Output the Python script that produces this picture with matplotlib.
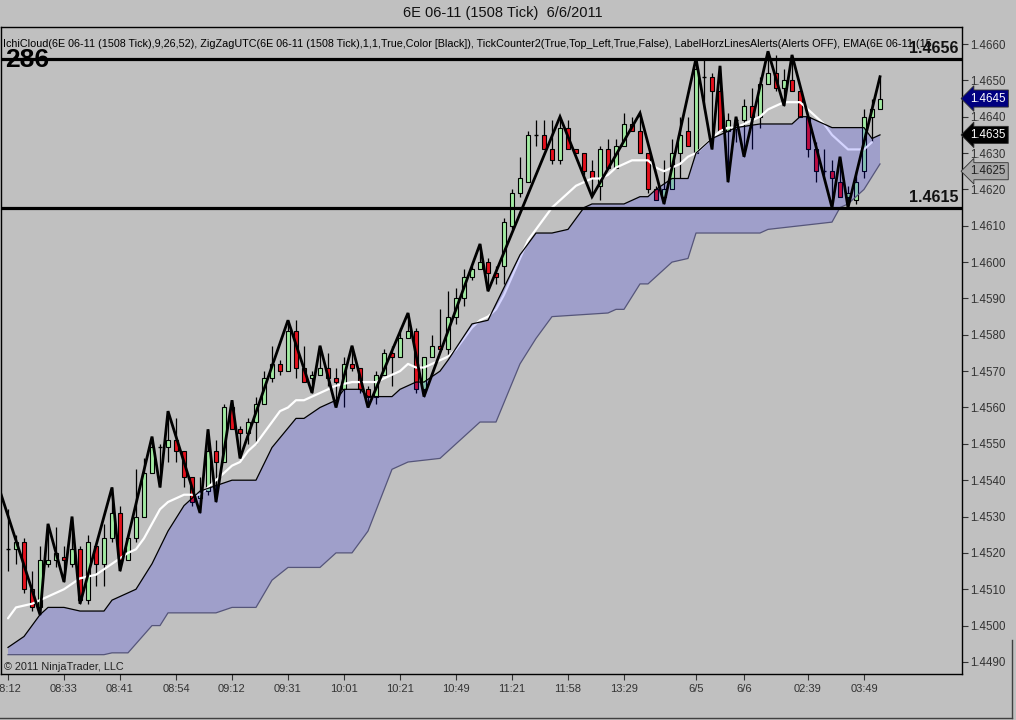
import matplotlib
matplotlib.use("Agg")
import matplotlib.pyplot as plt
from matplotlib.patches import Rectangle
from matplotlib.transforms import blended_transform_factory
import numpy as np

plt.rcParams['font.family'] = ['Liberation Sans', 'DejaVu Sans']

# ---------------- data ----------------
opens = [1.4521, 1.4521, 1.4523, 1.4510, 1.4505, 1.4517, 1.4518, 1.4519, 1.4517, 1.4521,
         1.4507, 1.4522, 1.4517, 1.4524, 1.4531, 1.4518, 1.4524, 1.4530, 1.4542, 1.4549,
         1.4549, 1.4551, 1.4548, 1.4541, 1.4535, 1.4537, 1.4548, 1.4545, 1.4560, 1.4554,
         1.4553, 1.4556, 1.4561, 1.4568, 1.4572, 1.4570, 1.4581, 1.4571, 1.4568, 1.4569,
         1.4571, 1.4568, 1.4565, 1.4572, 1.4571, 1.4565, 1.4563, 1.4569, 1.4575, 1.4574,
         1.4579, 1.4581, 1.4565, 1.4574, 1.4577, 1.4576, 1.4585, 1.4590, 1.4596, 1.4598,
         1.4600, 1.4597, 1.4599, 1.4610, 1.4619, 1.4622, 1.4635, 1.4635, 1.4631, 1.4628,
         1.4637, 1.4631, 1.4630, 1.4625, 1.4621, 1.4631, 1.4626, 1.4632, 1.4638, 1.4636,
         1.4630, 1.4620, 1.4618, 1.4620, 1.4630, 1.4636, 1.4630, 1.4651, 1.4651, 1.4647,
         1.4636, 1.4639, 1.4639, 1.4643, 1.4640, 1.4649, 1.4652, 1.4648, 1.4650, 1.4647,
         1.4640, 1.4631, 1.4625, 1.4625, 1.4622, 1.4618, 1.4617, 1.4625, 1.4640, 1.4642]
closes = [1.4521, 1.4523, 1.4510, 1.4505, 1.4518, 1.4518, 1.4520, 1.4518, 1.4521, 1.4507,
          1.4523, 1.4517, 1.4524, 1.4531, 1.4518, 1.4524, 1.4530, 1.4542, 1.4549, 1.4549,
          1.4551, 1.4548, 1.4541, 1.4534, 1.4536, 1.4548, 1.4545, 1.4560, 1.4554, 1.4553,
          1.4556, 1.4561, 1.4568, 1.4572, 1.4570, 1.4581, 1.4571, 1.4567, 1.4569, 1.4571,
          1.4568, 1.4567, 1.4572, 1.4571, 1.4565, 1.4563, 1.4569, 1.4575, 1.4574, 1.4579,
          1.4581, 1.4565, 1.4574, 1.4577, 1.4576, 1.4585, 1.4590, 1.4596, 1.4598, 1.4600,
          1.4597, 1.4596, 1.4611, 1.4619, 1.4623, 1.4635, 1.4635, 1.4631, 1.4628, 1.4637,
          1.4631, 1.4630, 1.4625, 1.4623, 1.4631, 1.4626, 1.4632, 1.4638, 1.4636, 1.4630,
          1.4620, 1.4617, 1.4620, 1.4630, 1.4635, 1.4632, 1.4653, 1.4651, 1.4647, 1.4636,
          1.4639, 1.4639, 1.4643, 1.4640, 1.4649, 1.4652, 1.4648, 1.4650, 1.4647, 1.4640,
          1.4631, 1.4625, 1.4625, 1.4623, 1.4618, 1.4619, 1.4622, 1.4640, 1.4642, 1.4645]
highs = [1.4532, 1.4525, 1.4524, 1.4515, 1.4522, 1.4528, 1.4527, 1.4522, 1.4530, 1.4522,
         1.4525, 1.4522, 1.4528, 1.4538, 1.4533, 1.4525, 1.4543, 1.4546, 1.4552, 1.4550,
         1.4559, 1.4557, 1.4548, 1.4541, 1.4541, 1.4554, 1.4551, 1.4561, 1.4562, 1.4555,
         1.4557, 1.4563, 1.4570, 1.4577, 1.4573, 1.4584, 1.4584, 1.4577, 1.4570, 1.4577,
         1.4575, 1.4571, 1.4574, 1.4577, 1.4571, 1.4566, 1.4570, 1.4576, 1.4577, 1.4582,
         1.4586, 1.4582, 1.4574, 1.4580, 1.4587, 1.4592, 1.4593, 1.4598, 1.4599, 1.4605,
         1.4601, 1.4599, 1.4612, 1.4620, 1.4629, 1.4636, 1.4639, 1.4639, 1.4639, 1.4640,
         1.4639, 1.4631, 1.4630, 1.4628, 1.4632, 1.4634, 1.4634, 1.4641, 1.4640, 1.4641,
         1.4630, 1.4621, 1.4628, 1.4634, 1.4640, 1.4640, 1.4656, 1.4656, 1.4652, 1.4654,
         1.4641, 1.4640, 1.4645, 1.4648, 1.4651, 1.4658, 1.4657, 1.4653, 1.4657, 1.4647,
         1.4640, 1.4633, 1.4631, 1.4628, 1.4629, 1.4621, 1.4625, 1.4642, 1.4645, 1.4651]
lows = [1.4515, 1.4517, 1.4509, 1.4504, 1.4503, 1.4516, 1.4516, 1.4512, 1.4516, 1.4506,
        1.4506, 1.4511, 1.4511, 1.4523, 1.4515, 1.4518, 1.4523, 1.4530, 1.4542, 1.4538,
        1.4545, 1.4545, 1.4538, 1.4533, 1.4531, 1.4536, 1.4534, 1.4545, 1.4554, 1.4546,
        1.4550, 1.4550, 1.4561, 1.4567, 1.4569, 1.4570, 1.4568, 1.4567, 1.4564, 1.4569,
        1.4566, 1.4560, 1.4560, 1.4570, 1.4564, 1.4560, 1.4561, 1.4569, 1.4566, 1.4574,
        1.4579, 1.4564, 1.4563, 1.4574, 1.4576, 1.4574, 1.4583, 1.4588, 1.4595, 1.4598,
        1.4592, 1.4594, 1.4594, 1.4609, 1.4618, 1.4622, 1.4632, 1.4631, 1.4627, 1.4627,
        1.4631, 1.4630, 1.4624, 1.4618, 1.4617, 1.4626, 1.4626, 1.4632, 1.4636, 1.4630,
        1.4619, 1.4617, 1.4616, 1.4620, 1.4623, 1.4632, 1.4630, 1.4642, 1.4631, 1.4636,
        1.4622, 1.4633, 1.4629, 1.4631, 1.4637, 1.4649, 1.4647, 1.4643, 1.4647, 1.4640,
        1.4629, 1.4622, 1.4624, 1.4615, 1.4618, 1.4615, 1.4616, 1.4623, 1.4633, 1.4642]

ema_idx = [0, 1, 3, 5, 7, 9, 11, 13, 15, 16, 17, 18, 19, 20, 21, 22, 23, 24, 25, 26,
           27, 28, 29, 30, 31, 32, 33, 34, 35, 36, 37, 38, 39, 40, 41, 43, 45, 46, 47, 48,
           49, 50, 51, 52, 53, 54, 55, 56, 57, 58, 59, 60, 61, 62, 63, 64, 65, 66, 67, 68,
           69, 70, 71, 72, 73, 74, 75, 76, 77, 78, 79, 80, 81, 82, 83, 84, 85, 86, 87, 88,
           89, 90, 91, 92, 93, 94, 95, 96, 97, 98, 99, 100, 101, 102, 103, 104, 105, 106, 107, 108]
ema = [1.4502, 1.4505, 1.4506, 1.4508, 1.4510, 1.4513, 1.4514, 1.4517, 1.4520, 1.4521,
       1.4524, 1.4528, 1.4532, 1.4534, 1.4535, 1.4536, 1.4536, 1.4536, 1.4538, 1.4540,
       1.4542, 1.4544, 1.4545, 1.4548, 1.4550, 1.4553, 1.4556, 1.4559, 1.4560, 1.4562,
       1.4562, 1.4563, 1.4564, 1.4565, 1.4566, 1.4567, 1.4567, 1.4567, 1.4568, 1.4569,
       1.4570, 1.4572, 1.4571, 1.4571, 1.4572, 1.4573, 1.4574, 1.4576, 1.4579, 1.4582,
       1.4584, 1.4585, 1.4587, 1.4591, 1.4596, 1.4601, 1.4606, 1.4609, 1.4612, 1.4615,
       1.4617, 1.4619, 1.4621, 1.4622, 1.4623, 1.4623, 1.4624, 1.4626, 1.4627, 1.4628,
       1.4628, 1.4628, 1.4626, 1.4625, 1.4626, 1.4627, 1.4629, 1.4630, 1.4632, 1.4634,
       1.4636, 1.4637, 1.4637, 1.4638, 1.4639, 1.4640, 1.4642, 1.4643, 1.4644, 1.4644,
       1.4644, 1.4642, 1.4640, 1.4638, 1.4635, 1.4633, 1.4631, 1.4631, 1.4631, 1.4633]

cloud_up_idx = [0, 2, 4, 5, 7, 9, 12, 13, 16, 18, 20, 22, 24, 28, 31, 33, 36, 37, 39, 41,
                42, 44, 45, 48, 49, 51, 52, 54, 55, 58, 60, 62, 64, 66, 68, 70, 72, 73, 77,
                79, 80, 81, 83, 85, 86, 88, 91, 94, 98, 99, 100, 103, 107, 108, 109]
cloud_up = [1.4494, 1.4497, 1.4503, 1.4505, 1.4505, 1.4504, 1.4504, 1.4507, 1.4510, 1.4517,
            1.4526, 1.4533, 1.4537, 1.4540, 1.4540, 1.4549, 1.4557, 1.4557, 1.4560, 1.4562,
            1.4565, 1.4565, 1.4563, 1.4563, 1.4565, 1.4567, 1.4567, 1.4570, 1.4573, 1.4583,
            1.4584, 1.4593, 1.4602, 1.4608, 1.4608, 1.4609, 1.4615, 1.4616, 1.4616, 1.4618,
            1.4618, 1.4620, 1.4623, 1.4623, 1.4630, 1.4634, 1.4637, 1.4638, 1.4638, 1.4640,
            1.4640, 1.4637, 1.4637, 1.4634, 1.4635]
cloud_lo_idx = [0, 12, 13, 15, 18, 19, 20, 26, 28, 31, 33, 35, 39, 41, 43, 45, 48, 49, 50,
                54, 59, 61, 64, 66, 68, 75, 76, 77, 79, 80, 81, 83, 85, 86, 94, 95, 103,
                104, 105, 107, 109]
cloud_lo = [1.4492, 1.4492, 1.44925, 1.44925, 1.4500, 1.4500, 1.45035, 1.45035, 1.4505, 1.4505,
            1.45125, 1.4516, 1.4516, 1.4520, 1.4520, 1.4526, 1.4543, 1.4544, 1.4545, 1.4546,
            1.4556, 1.4556, 1.4572, 1.4579, 1.4585, 1.4586, 1.4587, 1.4587, 1.4594, 1.4594,
            1.4596, 1.4600, 1.4601, 1.4608, 1.4608, 1.4609, 1.4611, 1.4615, 1.4616, 1.4620,
            1.4627]

zz_idx = [-1, 4, 5, 7, 8, 9, 13, 14, 18, 19, 20, 24, 25, 26, 28, 29, 35, 38, 39, 41, 43, 45,
          50, 52, 59, 60, 69, 73, 79, 82, 86, 88, 89, 90, 91, 92, 95, 97, 98, 103, 104, 105, 109]
zz_px = [1.4537, 1.4503, 1.4528, 1.4512, 1.4530, 1.4506, 1.4538, 1.4515, 1.4552, 1.4538,
         1.4559, 1.4531, 1.4554, 1.4534, 1.4562, 1.4546, 1.4584, 1.4564, 1.4577, 1.4560,
         1.4577, 1.4560, 1.4586, 1.4563, 1.4605, 1.4592, 1.4640, 1.4618, 1.4641, 1.4616,
         1.4656, 1.4631, 1.4654, 1.4622, 1.4640, 1.4629, 1.4658, 1.4643, 1.4657, 1.4615,
         1.4629, 1.4615, 1.4651]

hlines = [1.4656, 1.4615]
tags = [(1.4645, '#000080', 'white'), (1.4635, '#000000', 'white'), (1.4625, '#A8A8A8', '#202020')]

xtick_idx = [0, 7, 14, 21, 28, 35, 42, 49, 56, 63, 70, 77, 86, 92, 100, 107]
xtick_lbl = ['08:12', '08:33', '08:41', '08:54', '09:12', '09:31', '10:01', '10:21', '10:49',
             '11:21', '11:58', '13:29', '6/5', '6/6', '02:39', '03:49']
yticks = [1.4490 + 0.001 * k for k in range(18)]

title = '6E 06-11 (1508 Tick)  6/6/2011'
indicators = ('IchiCloud(6E 06-11 (1508 Tick),9,26,52), ZigZagUTC(6E 06-11 (1508 Tick),1,1,True,'
              'Color [Black]), TickCounter2(True,Top_Left,True,False), LabelHorzLinesAlerts(Alerts OFF), '
              'EMA(6E 06-11 (15')

# ---------------- figure ----------------
BG = '#C0C0C0'
W, H = 1016, 720
fig = plt.figure(figsize=(W / 100, H / 100), dpi=100, facecolor=BG)
ax = fig.add_axes([1 / W, 46 / H, 961 / W, 647 / H], facecolor=BG)

ax.set_xlim(-0.875, 119.25)
ax.set_ylim(1.448668, 1.466468)

# candles
bw = 0.62
up_c = '#A2EBA2'
dn_c = '#E3101C'
for i, (o, h, l, c) in enumerate(zip(opens, highs, lows, closes)):
    ax.vlines(i, l, h, color='black', lw=0.9, zorder=3)
    if abs(c - o) < 1e-9:
        ax.hlines(o, i - bw / 2, i + bw / 2, color='black', lw=1.0, zorder=4)
    else:
        ax.add_patch(Rectangle((i - bw / 2, min(o, c)), bw, abs(c - o),
                               facecolor=up_c if c > o else dn_c, edgecolor='black',
                               lw=0.8, zorder=4))

# EMA
ax.plot(ema_idx, ema, color='white', lw=1.6, zorder=5, solid_capstyle='round')

# cloud
px = list(cloud_up_idx) + list(cloud_lo_idx[::-1])
py = list(cloud_up) + list(cloud_lo[::-1])
ax.fill(px, py, facecolor='#0000FF', alpha=0.17, edgecolor='none', zorder=7)
ax.plot(cloud_up_idx, cloud_up, color='black', lw=0.9, zorder=8)
ax.plot(cloud_lo_idx, cloud_lo, color='#55557A', lw=0.9, zorder=8)

# zigzag
ax.plot(zz_idx, zz_px, color='black', lw=2.0, zorder=9, solid_joinstyle='miter')

# horizontal lines with labels
for p in hlines:
    ax.axhline(p, color='black', lw=2.3, zorder=9)
    ax.annotate(f'{p:.4f}', xy=(0.996, p), xycoords=('axes fraction', 'data'),
                xytext=(0, 1.5), textcoords='offset points', ha='right', va='bottom',
                fontsize=11.5, fontweight='bold', color='#111111', zorder=12)

# texts
ax.text(2 / 961, 1 - 17 / 647, indicators, transform=ax.transAxes, fontsize=7.75,
        ha='left', va='center', color='black', clip_on=True, zorder=11)
ax.text(4 / 961, 1 - 33 / 647, '286', transform=ax.transAxes, fontsize=19,
        fontweight='bold', ha='left', va='center', color='black', zorder=11)
ax.text(3 / 961, 7 / 647, '\u00a9 2011 NinjaTrader, LLC', transform=ax.transAxes,
        fontsize=7.8, ha='left', va='center', color='#222222', zorder=11)
fig.text(503 / W, 1 - 13 / H, title, ha='center', va='center', fontsize=10.5, color='#111111')

# axes styling
for s in ['left', 'right', 'top', 'bottom']:
    ax.spines[s].set_color('black')
    ax.spines[s].set_linewidth(1.0)
ax.yaxis.tick_right()
ax.set_yticks(yticks)
ax.set_yticklabels([f'{v:.4f}' for v in yticks])
ax.set_xticks(xtick_idx)
ax.set_xticklabels(xtick_lbl)
ax.tick_params(axis='y', direction='out', length=4, width=0.8, colors='#333333',
               labelsize=8.3, pad=2, labelcolor='#333333')
ax.tick_params(axis='x', direction='out', length=4, width=0.8, colors='#333333',
               labelsize=8, pad=3, labelcolor='#333333')

# price tags
tr = blended_transform_factory(ax.transAxes, ax.transData)
for p, fc, tc in tags:
    ax.annotate(f'{p:.4f}', xy=(1.0, p), xycoords=tr, xytext=(6, 0),
                textcoords='offset points', ha='left', va='center', fontsize=8.3,
                color=tc, annotation_clip=False, zorder=12,
                bbox=dict(boxstyle='larrow,pad=0.22', fc=fc, ec='#303030', lw=0.6))

# window border
fig.add_artist(plt.Line2D([0, 1012 / W], [2 / H, 2 / H], color='#404040', lw=1.0,
                          transform=fig.transFigure))
fig.add_artist(plt.Line2D([1012 / W, 1012 / W], [2 / H, 80 / H], color='#404040', lw=1.0,
                          transform=fig.transFigure))

fig.savefig('out.png', dpi=100, facecolor=BG)
